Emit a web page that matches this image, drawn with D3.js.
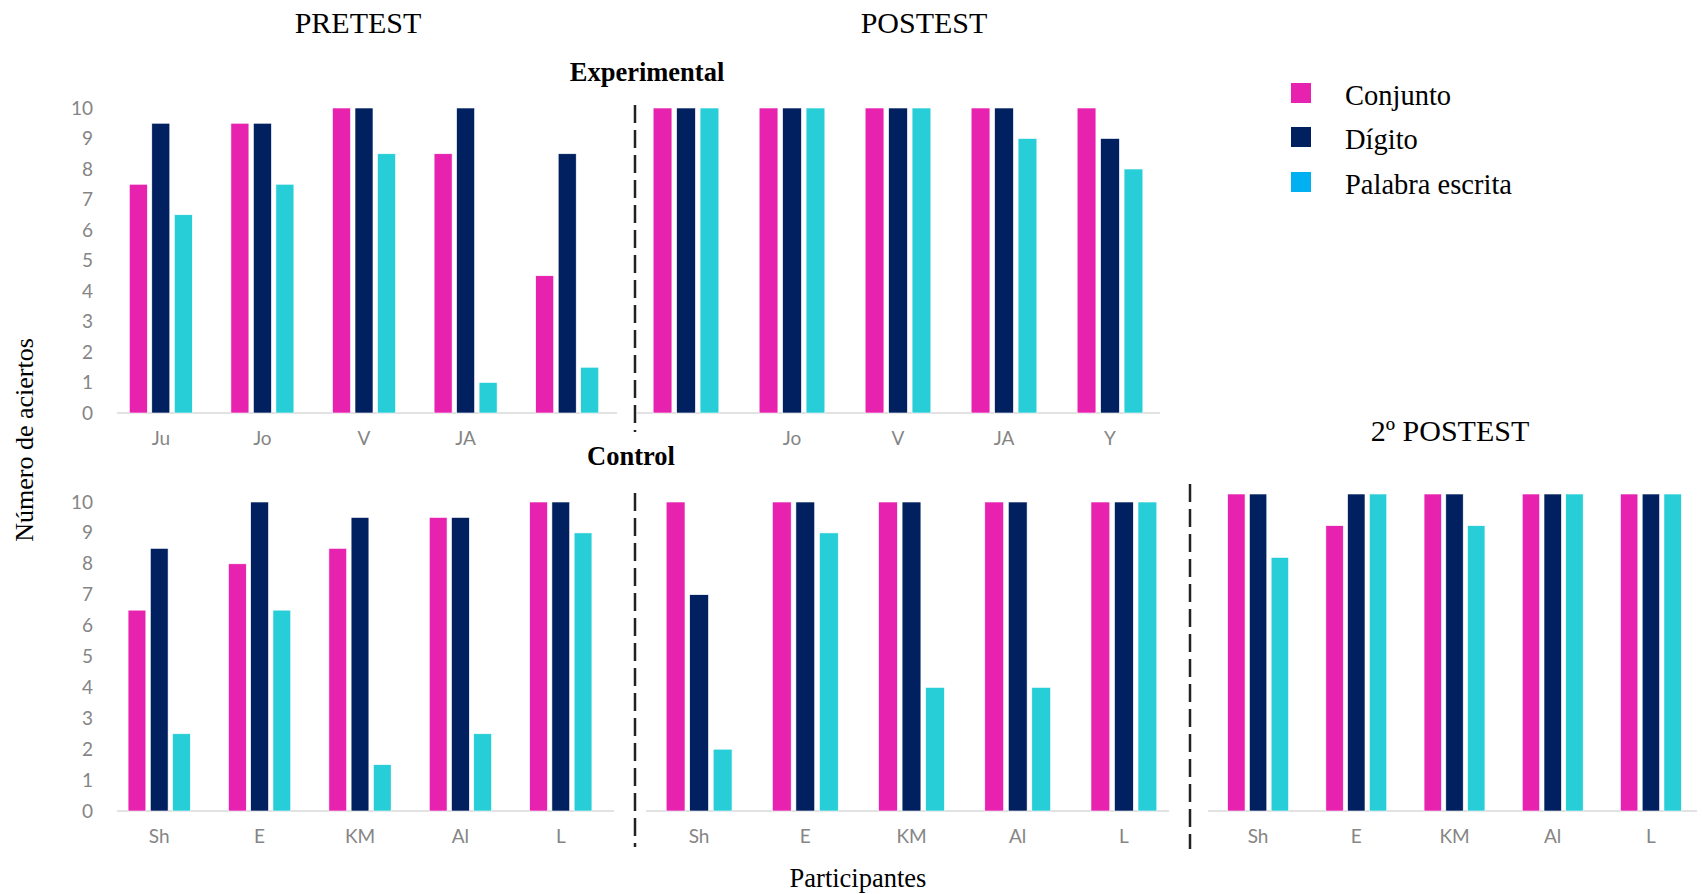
<!DOCTYPE html>
<html>
    <head>
        <meta charset="utf-8">
        <title>D3</title>
        <script src="https://d3js.org/d3.v7.min.js"></script>
        <style>
            body { margin: 0; background: #fff; }
            .serif { font-family: "Liberation Serif", "Times New Roman", serif; fill: #000; }
            .tick text { font-family: Lato, "Open Sans", sans-serif; font-weight: normal; fill: #858585; }
        </style>
    </head>

    <body>
        <div id="my_dataviz"></div>

    <script>
            // series and participants
            var seriesNames = ["Conjunto", "Dígito", "Palabra escrita"];
            var expLabelsPre = ["Ju", "Jo", "V", "JA", ""];
            var expLabelsPost = ["", "Jo", "V", "JA", "Y"];
            var ctrlLabels = ["Sh", "E", "KM", "Al", "L"];
            var yTicks = [0, 1, 2, 3, 4, 5, 6, 7, 8, 9, 10];

            // Experimental - pretest
            var expPreConjunto = [7.5, 9.5, 10, 8.5, 4.5];
            var expPreDigito   = [9.5, 9.5, 10, 10, 8.5];
            var expPrePalabra  = [6.5, 7.5, 8.5, 1, 1.5];

            // Experimental - postest
            var expPostConjunto = [10, 10, 10, 10, 10];
            var expPostDigito   = [10, 10, 10, 10, 9];
            var expPostPalabra  = [10, 10, 10, 9, 8];

            // Control - pretest
            var ctrlPreConjunto = [6.5, 8, 8.5, 9.5, 10];
            var ctrlPreDigito   = [8.5, 10, 9.5, 9.5, 10];
            var ctrlPrePalabra  = [2.5, 6.5, 1.5, 2.5, 9];

            // Control - postest
            var ctrlPostConjunto = [10, 10, 10, 10, 10];
            var ctrlPostDigito   = [7, 10, 10, 10, 10];
            var ctrlPostPalabra  = [2, 9, 4, 4, 10];

            // Control - 2º postest
            var ctrlPost2Conjunto = [10, 9, 10, 10, 10];
            var ctrlPost2Digito   = [10, 10, 10, 10, 10];
            var ctrlPost2Palabra  = [8, 10, 9, 10, 10];

            var colors = ["#e722af", "#002060", "#27cdd7"];
            var legendColors = ["#e722af", "#002060", "#00b0f0"];

            var width = 1702, height = 894;

            var svg = d3.select("#my_dataviz")
              .append("svg")
                .attr("width", width)
                .attr("height", height);

            // panels: data + where they sit on the page
            var panels = [
              { labels: expLabelsPre,  values: [expPreConjunto, expPreDigito, expPrePalabra],
                xr: [110, 618], yr: [413, 108], base: [117, 617], yAxis: true },
              { labels: expLabelsPost, values: [expPostConjunto, expPostDigito, expPostPalabra],
                xr: [633, 1163], yr: [413, 108], base: [637, 1160], yAxis: false },
              { labels: ctrlLabels,    values: [ctrlPreConjunto, ctrlPreDigito, ctrlPrePalabra],
                xr: [109, 611], yr: [811, 502], base: [117, 614], yAxis: true },
              { labels: ctrlLabels,    values: [ctrlPostConjunto, ctrlPostDigito, ctrlPostPalabra],
                xr: [646, 1177], yr: [811, 502], base: [646, 1169], yAxis: false },
              { labels: ctrlLabels,    values: [ctrlPost2Conjunto, ctrlPost2Digito, ctrlPost2Palabra],
                xr: [1209, 1700], yr: [811, 494], base: [1208, 1697], yAxis: false }
            ];

            panels.forEach(function(p) {
              var idx = d3.range(p.labels.length);

              var x0 = d3.scaleBand()
                .domain(idx)
                .range(p.xr)
                .paddingInner(0.38)
                .paddingOuter(0.19);

              var x1 = d3.scaleBand()
                .domain(d3.range(seriesNames.length))
                .range([0, x0.bandwidth()])
                .paddingInner(0.2);

              var y = d3.scaleLinear()
                .domain([0, 10])
                .range(p.yr);

              var g = svg.append("g");

              // baseline
              g.append("line")
                .attr("x1", p.base[0]).attr("x2", p.base[1])
                .attr("y1", y(0)).attr("y2", y(0))
                .attr("stroke", "#d9d9d9")
                .attr("stroke-width", 1.5);

              // bars
              var groups = g.selectAll(".grp")
                .data(idx)
                .enter()
                .append("g")
                  .attr("transform", function(i) { return "translate(" + x0(i) + ",0)"; });

              groups.selectAll("rect")
                .data(function(i) { return p.values.map(function(s, k) { return { k: k, v: s[i] }; }); })
                .enter()
                .append("rect")
                  .attr("x", function(d) { return x1(d.k); })
                  .attr("y", function(d) { return y(d.v); })
                  .attr("width", x1.bandwidth())
                  .attr("height", function(d) { return y(0) - y(d.v); })
                  .attr("fill", function(d) { return colors[d.k]; })
                  .attr("stroke", "#ffffff")
                  .attr("stroke-width", 0.6);

              // x axis labels
              var xa = g.append("g")
                .attr("transform", "translate(0," + y(0) + ")")
                .call(d3.axisBottom(x0).tickSize(0).tickPadding(19)
                  .tickFormat(function(i) { return p.labels[i]; }));
              xa.select(".domain").remove();
              xa.selectAll("text").style("font-size", "19px");

              if (p.yAxis) {
                var ya = g.append("g")
                  .attr("transform", "translate(93,0)")
                  .call(d3.axisLeft(y).tickValues(yTicks).tickSize(0).tickPadding(0));
                ya.select(".domain").remove();
                ya.selectAll("text").style("font-size", "19px");
              }
            });

            // dashed separators
            var seps = [[635, 105, 432], [635, 493, 847], [1190, 484, 849]];
            svg.selectAll(".sep")
              .data(seps)
              .enter()
              .append("line")
                .attr("x1", function(d) { return d[0]; })
                .attr("x2", function(d) { return d[0]; })
                .attr("y1", function(d) { return d[1]; })
                .attr("y2", function(d) { return d[2]; })
                .attr("stroke", "#222")
                .attr("stroke-width", 2.5)
                .attr("stroke-dasharray", "18,7");

            // titles
            function label(txt, x, y, size, bold) {
              return svg.append("text")
                .attr("class", "serif")
                .attr("x", x).attr("y", y)
                .attr("text-anchor", "middle")
                .style("font-size", size + "px")
                .style("font-weight", bold ? "bold" : "normal")
                .text(txt);
            }
            label("PRETEST", 358, 33, 30, false);
            label("POSTEST", 924, 33, 30, false);
            label("Experimental", 647, 81, 26.5, true);
            label("Control", 631, 465, 26.5, true);
            label("2º POSTEST", 1450, 441, 30, false);
            label("Participantes", 858, 887, 26.5, false);

            svg.append("text")
              .attr("class", "serif")
              .attr("transform", "translate(33,440) rotate(-90)")
              .attr("text-anchor", "middle")
              .style("font-size", "26px")
              .text("Número de aciertos");

            // legend
            var legend = svg.selectAll(".legend")
              .data(seriesNames)
              .enter()
              .append("g")
                .attr("transform", function(d, i) { return "translate(1291," + [83, 127, 172][i] + ")"; });

            legend.append("rect")
              .attr("width", 20)
              .attr("height", 20)
              .attr("fill", function(d, i) { return legendColors[i]; });

            legend.append("text")
              .attr("class", "serif")
              .attr("x", 54)
              .attr("y", 22)
              .style("font-size", "28.5px")
              .text(function(d) { return d; });
    </script>
    </body>
</html>
